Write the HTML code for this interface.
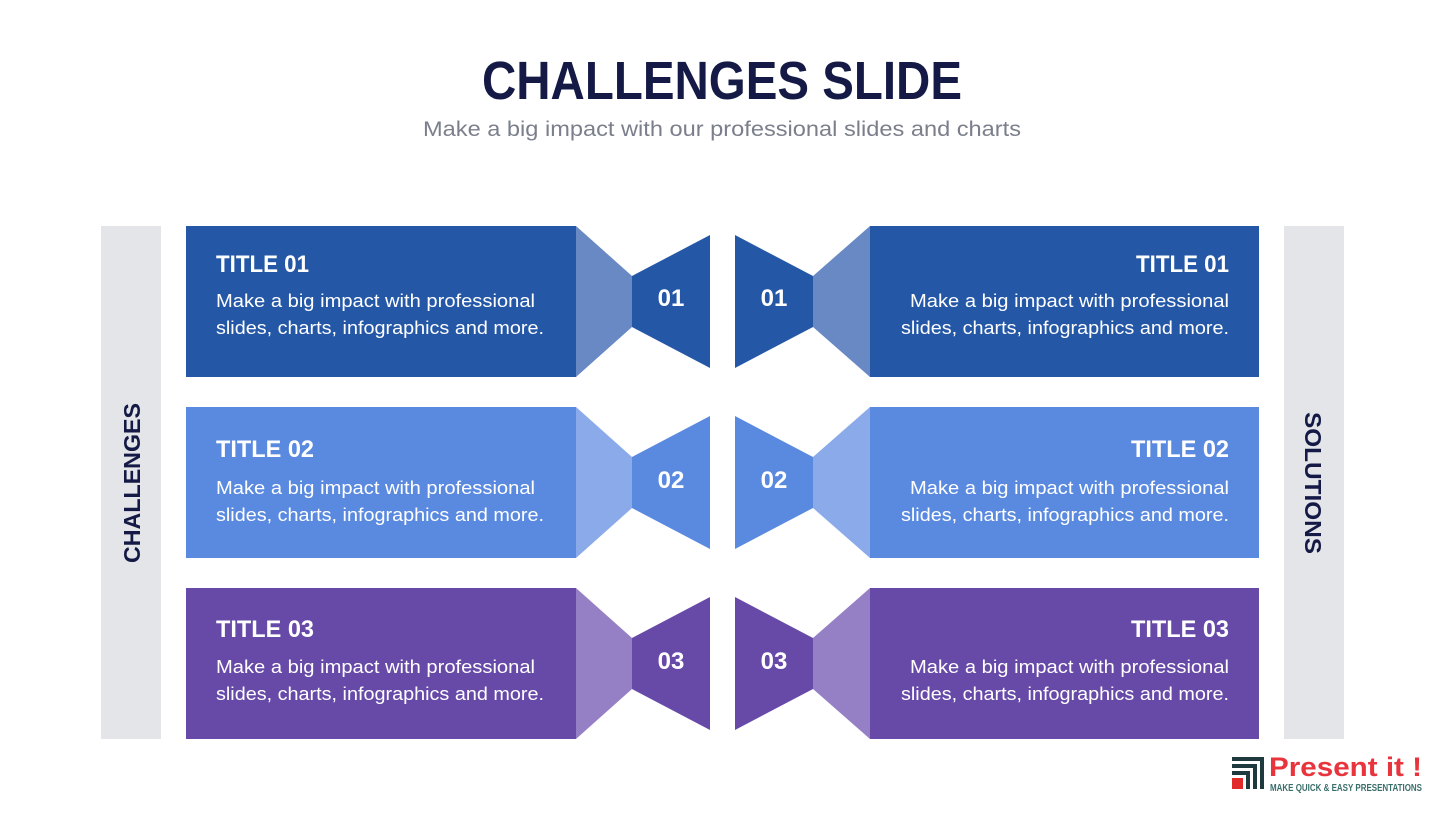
<!DOCTYPE html>
<html><head><meta charset="utf-8"><style>
body{margin:0;background:#fff;}
svg{display:block;font-family:"Liberation Sans",sans-serif;}
</style></head><body>
<svg width="1445" height="813" viewBox="0 0 1445 813" xmlns="http://www.w3.org/2000/svg">
<text x="722" y="99" text-anchor="middle" font-size="54" font-weight="bold" fill="#141a45" textLength="480" lengthAdjust="spacingAndGlyphs">CHALLENGES SLIDE</text>
<text x="722" y="136" text-anchor="middle" font-size="21" fill="#7b7f8c" textLength="598" lengthAdjust="spacingAndGlyphs">Make a big impact with our professional slides and charts</text>
<rect x="101" y="226" width="60" height="513" fill="#e4e5e8"/>
<rect x="1284" y="226" width="60" height="513" fill="#e4e5e8"/>
<text transform="translate(140,483) rotate(-90)" text-anchor="middle" font-size="23" font-weight="bold" fill="#141a45" textLength="160" lengthAdjust="spacingAndGlyphs">CHALLENGES</text>
<text transform="translate(1305,483) rotate(90)" text-anchor="middle" font-size="23" font-weight="bold" fill="#141a45" textLength="142" lengthAdjust="spacingAndGlyphs">SOLUTIONS</text>

<g id="rows">
</g>
<!-- row 1 -->
<g>
<rect x="186" y="226" width="390" height="151" fill="#2557a7"/>
<polygon points="576,226 632,276 632,327 576,377" fill="#6889c4"/>
<polygon points="632,276 710,235 710,368 632,327" fill="#2557a7"/>
<polygon points="735,235 813,276 813,327 735,368" fill="#2557a7"/>
<polygon points="813,276 870,226 870,377 813,327" fill="#6889c4"/>
<rect x="870" y="226" width="389" height="151" fill="#2557a7"/>
</g>
<g>
<rect x="186" y="407" width="390" height="151" fill="#5a89e0"/>
<polygon points="576,407 632,457 632,508 576,558" fill="#8aaaea"/>
<polygon points="632,457 710,416 710,549 632,508" fill="#5a89e0"/>
<polygon points="735,416 813,457 813,508 735,549" fill="#5a89e0"/>
<polygon points="813,457 870,407 870,558 813,508" fill="#8aaaea"/>
<rect x="870" y="407" width="389" height="151" fill="#5a89e0"/>
</g>
<g>
<rect x="186" y="588" width="390" height="151" fill="#674aa8"/>
<polygon points="576,588 632,638 632,689 576,739" fill="#9580c6"/>
<polygon points="632,638 710,597 710,730 632,689" fill="#674aa8"/>
<polygon points="735,597 813,638 813,689 735,730" fill="#674aa8"/>
<polygon points="813,638 870,588 870,739 813,689" fill="#9580c6"/>
<rect x="870" y="588" width="389" height="151" fill="#674aa8"/>
</g>

<g fill="#fff">
<g font-size="24" font-weight="bold">
<text x="216" y="272" textLength="93" lengthAdjust="spacingAndGlyphs">TITLE 01</text>
<text x="1229" y="272" text-anchor="end" textLength="93" lengthAdjust="spacingAndGlyphs">TITLE 01</text>
<text x="216" y="457" textLength="98" lengthAdjust="spacingAndGlyphs">TITLE 02</text>
<text x="1229" y="457" text-anchor="end" textLength="98" lengthAdjust="spacingAndGlyphs">TITLE 02</text>
<text x="216" y="637" textLength="98" lengthAdjust="spacingAndGlyphs">TITLE 03</text>
<text x="1229" y="637" text-anchor="end" textLength="98" lengthAdjust="spacingAndGlyphs">TITLE 03</text>
</g>
<g font-size="24" font-weight="bold" text-anchor="middle">
<text x="671" y="306">01</text><text x="774" y="306">01</text>
<text x="671" y="488">02</text><text x="774" y="488">02</text>
<text x="671" y="669">03</text><text x="774" y="669">03</text>
</g>
<g font-size="18">
<text x="216" y="307" textLength="319" lengthAdjust="spacingAndGlyphs">Make a big impact with professional</text>
<text x="216" y="334" textLength="328" lengthAdjust="spacingAndGlyphs">slides, charts, infographics and more.</text>
<text x="1229" y="307" text-anchor="end" textLength="319" lengthAdjust="spacingAndGlyphs">Make a big impact with professional</text>
<text x="1229" y="334" text-anchor="end" textLength="328" lengthAdjust="spacingAndGlyphs">slides, charts, infographics and more.</text>
<text x="216" y="494" textLength="319" lengthAdjust="spacingAndGlyphs">Make a big impact with professional</text>
<text x="216" y="521" textLength="328" lengthAdjust="spacingAndGlyphs">slides, charts, infographics and more.</text>
<text x="1229" y="494" text-anchor="end" textLength="319" lengthAdjust="spacingAndGlyphs">Make a big impact with professional</text>
<text x="1229" y="521" text-anchor="end" textLength="328" lengthAdjust="spacingAndGlyphs">slides, charts, infographics and more.</text>
<text x="216" y="673" textLength="319" lengthAdjust="spacingAndGlyphs">Make a big impact with professional</text>
<text x="216" y="700" textLength="328" lengthAdjust="spacingAndGlyphs">slides, charts, infographics and more.</text>
<text x="1229" y="673" text-anchor="end" textLength="319" lengthAdjust="spacingAndGlyphs">Make a big impact with professional</text>
<text x="1229" y="700" text-anchor="end" textLength="328" lengthAdjust="spacingAndGlyphs">slides, charts, infographics and more.</text>
</g>
</g>

<!-- logo -->
<g>
<path d="M1232,757 h32 v32 h-4 v-28 h-28 z" fill="#1f3a3f"/>
<path d="M1232,764 h25 v25 h-4 v-21 h-21 z" fill="#1f3a3f"/>
<path d="M1232,771 h18 v18 h-4 v-14 h-14 z" fill="#1f3a3f"/>
<rect x="1232" y="778" width="11" height="11" fill="#e02a2a"/>
<text x="1269" y="776" font-size="27" font-weight="bold" fill="#e8343c" textLength="153" lengthAdjust="spacingAndGlyphs">Present it !</text>
<text x="1270" y="791" font-size="10" font-weight="bold" fill="#3a6e6a" textLength="152" lengthAdjust="spacingAndGlyphs">MAKE QUICK &amp; EASY PRESENTATIONS</text>
</g>
</svg>
</body></html>
